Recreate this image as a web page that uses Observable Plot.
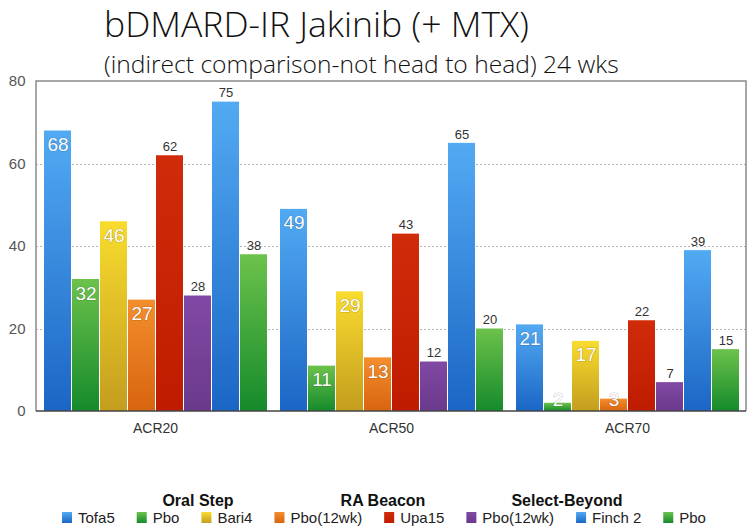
<!DOCTYPE html>
<html>
<head>
<meta charset="utf-8">
<script src="https://cdn.jsdelivr.net/npm/d3@7"></script>
<script src="https://cdn.jsdelivr.net/npm/@observablehq/plot@0.6"></script>
<style>
  html, body { margin: 0; padding: 0; background: #fff; }
  #chart { width: 750px; height: 531px; overflow: hidden; }
</style>
</head>
<body>
<div id="chart"></div>
<script>
// ---- data ----
const groups = ["ACR20", "ACR50", "ACR70"];
const seriesNames = ["Tofa5", "Pbo", "Bari4", "Pbo(12wk)", "Upa15", "Pbo(12wk)", "Finch 2", "Pbo"];
const studies = ["Oral Step", "RA Beacon", "Select-Beyond"];
const acr20 = [68, 32, 46, 27, 62, 28, 75, 38];
const acr50 = [49, 11, 29, 13, 43, 12, 65, 20];
const acr70 = [21, 2, 17, 3, 22, 7, 39, 15];
const yTicks = [0, 20, 40, 60, 80];
const titleText = "bDMARD-IR Jakinib (+ MTX)";
const subtitleText = "(indirect comparison-not head to head) 24 wks";

// ---- styles ----
const gradStops = {
  blue:   ["#52aaf3", "#1b66c5"],
  green:  ["#6cc24b", "#158a2b"],
  yellow: ["#f8dc2e", "#c49d1e"],
  orange: ["#f38e2d", "#d8640f"],
  red:    ["#d02c0a", "#bf1b00"],
  purple: ["#8149a5", "#6a398c"]
};
const seriesColor = ["blue", "green", "yellow", "orange", "red", "purple", "blue", "green"];
const insideLabel = [true, true, true, true, false, false, false, false];
const sans = "'Liberation Sans', Arial, Helvetica, sans-serif";

const valuesByGroup = [acr20, acr50, acr70];
const data = groups.flatMap((g, gi) => valuesByGroup[gi].map((v, i) => ({group: g, key: i, value: v})));

const W = 750, H = 531, mL = 36, mR = 4, mT = 81, mB = 120;

const plot = Plot.plot({
  width: W, height: H,
  marginLeft: mL, marginRight: mR, marginTop: mT, marginBottom: mB,
  style: {fontFamily: sans, background: "#fff", overflow: "visible"},
  fx: {domain: groups, paddingInner: 0.042, paddingOuter: 0.021, label: null},
  x: {domain: d3.range(seriesNames.length), padding: 0.045, axis: null},
  y: {domain: [0, 80], axis: null},
  color: {type: "identity"},
  marks: [
    Plot.barY(data, {fx: "group", x: "key", y: "value", fill: d => `url(#grad-${seriesColor[d.key]})`}),
    Plot.text(data.filter(d => insideLabel[d.key]), {
      fx: "group", x: "key", y: d => Math.max(d.value, 6.2), text: d => String(d.value),
      dy: 14, fill: "#fff", fontSize: 19, stroke: "rgba(0,0,0,0.22)", strokeWidth: 1.2
    }),
    Plot.text(data.filter(d => !insideLabel[d.key]), {
      fx: "group", x: "key", y: "value", text: d => String(d.value),
      dy: -9, fill: "#333", fontSize: 13
    }),
    Plot.axisFx({anchor: "bottom", tickSize: 0, tickPadding: 12, fontSize: 14, fill: "#333", label: null}),
    Plot.axisY({anchor: "left", ticks: yTicks, tickSize: 0, tickPadding: 17, fontSize: 15, fill: "#555", label: null})
  ]
});

document.getElementById("chart").appendChild(plot);

const svg = d3.select(plot);
const ys = plot.scale("y");
const x0 = mL, x1 = W - mR;

// gradients
const defs = svg.insert("defs", ":first-child");
for (const [name, [top, bot]] of Object.entries(gradStops)) {
  const g = defs.append("linearGradient").attr("id", `grad-${name}`)
    .attr("x1", 0).attr("y1", 0).attr("x2", 0).attr("y2", 1);
  g.append("stop").attr("offset", "0%").attr("stop-color", top);
  g.append("stop").attr("offset", "100%").attr("stop-color", bot);
}

// grid (behind bars)
const grid = svg.insert("g", "g").attr("stroke", "#b5b5b5").attr("stroke-dasharray", "2,2");
for (const t of yTicks.filter(t => t > 0 && t < 80)) {
  const yy = Math.round(ys.apply(t)) + 0.5;
  grid.append("line").attr("x1", x0).attr("x2", x1).attr("y1", yy).attr("y2", yy);
}

// frame
const fr = svg.append("g").attr("fill", "none");
const yTop = ys.apply(80), yBot = ys.apply(0);
fr.append("path").attr("d", `M${x0},${yBot}V${yTop}H${x1}V${yBot}`).attr("stroke", "#8a8a8a").attr("stroke-width", 1.5);
fr.append("line").attr("x1", x0).attr("x2", x1).attr("y1", yBot).attr("y2", yBot).attr("stroke", "#444").attr("stroke-width", 1.5);

// title + subtitle
function fitText(sel, target) {
  const len = sel.node().getComputedTextLength();
  const fs = parseFloat(sel.attr("font-size"));
  sel.attr("font-size", fs * target / len);
}
const tg = svg.append("g").attr("text-anchor", "start")
  .attr("font-family", "'Open Sans', 'Noto Sans', sans-serif");
const title = tg.append("text").attr("x", 104).attr("y", 37).attr("text-anchor", "start")
  .attr("font-weight", 300).attr("font-size", 32).attr("fill", "#111").text(titleText);
fitText(title, 425);
const sub = tg.append("text").attr("x", 104).attr("y", 73).attr("text-anchor", "start")
  .attr("font-weight", 300).attr("font-size", 23).attr("fill", "#111").text(subtitleText);
fitText(sub, 515);

// legend headers
const headerX = [198, 383, 567];
const lg = svg.append("g").attr("font-family", sans);
studies.forEach((s, i) => {
  lg.append("text").attr("x", headerX[i]).attr("y", 506).attr("text-anchor", "middle")
    .attr("font-weight", "bold").attr("font-size", 16).attr("fill", "#111").text(s);
});

// legend items, laid out sequentially and centered
const items = lg.append("g").attr("text-anchor", "start");
const gapAfter = 22;
let cx = 0;
seriesNames.forEach((n, i) => {
  const it = items.append("g").attr("transform", `translate(${cx},0)`);
  it.append("rect").attr("x", 0).attr("y", 512).attr("width", 10).attr("height", 11)
    .attr("fill", `url(#grad-${seriesColor[i]})`);
  const t = it.append("text").attr("x", 16).attr("y", 523).attr("text-anchor", "start")
    .attr("font-size", 15).attr("fill", "#222").text(n);
  cx += 16 + t.node().getComputedTextLength() + gapAfter;
});
const totalW = cx - gapAfter;
items.attr("transform", `translate(${384 - totalW / 2},0)`);
</script>
</body>
</html>
